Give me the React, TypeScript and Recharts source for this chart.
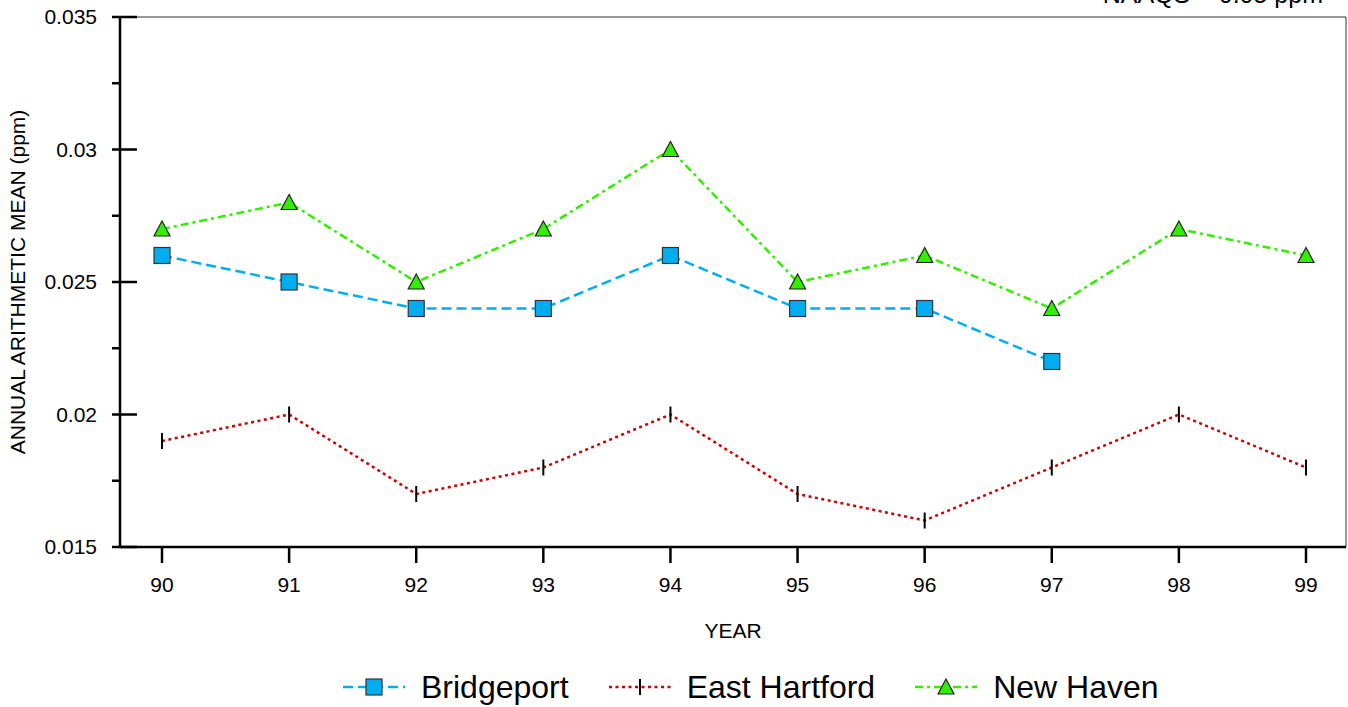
import React from 'react'
import {
  LineChart,
  Line,
  XAxis,
  YAxis,
  CartesianGrid,
  Label,
} from 'recharts'

const years = ['90', '91', '92', '93', '94', '95', '96', '97', '98', '99']
const bridgeport = [0.026, 0.025, 0.024, 0.024, 0.026, 0.024, 0.024, 0.022, null, null]
const eastHartford = [0.019, 0.02, 0.017, 0.018, 0.02, 0.017, 0.016, 0.018, 0.02, 0.018]
const newHaven = [0.027, 0.028, 0.025, 0.027, 0.03, 0.025, 0.026, 0.024, 0.027, 0.026]

const yTicks = [0.015, 0.0175, 0.02, 0.0225, 0.025, 0.0275, 0.03, 0.0325, 0.035]
const yMajorLabels: Record<string, string> = {
  '0.015': '0.015',
  '0.02': '0.02',
  '0.025': '0.025',
  '0.03': '0.03',
  '0.035': '0.035',
}

const FONT = 'Arial, "Liberation Sans", sans-serif'
const BLUE = '#00aeef'
const RED = '#cc0000'
const GREEN = '#33ee00'

const BLUE_DASH = '10 5'
const RED_DASH = '3 3.5'
const GREEN_DASH = '8 4 3 4'

const data = years.map((year, i) => ({
  year,
  bridgeport: bridgeport[i],
  eastHartford: eastHartford[i],
  newHaven: newHaven[i],
}))

const SquareDot = (props: any) => {
  const { cx, cy, index } = props
  if (cx == null || cy == null) return <g key={`s-${index}`} />
  return (
    <rect
      key={`s-${index}`}
      x={cx - 8}
      y={cy - 8}
      width={16}
      height={16}
      fill={BLUE}
      stroke="#333"
      strokeWidth={1.2}
    />
  )
}

const TickDot = (props: any) => {
  const { cx, cy, index } = props
  if (cx == null || cy == null) return <g key={`t-${index}`} />
  return <line key={`t-${index}`} x1={cx} x2={cx} y1={cy - 8} y2={cy + 8} stroke="#000" strokeWidth={2} />
}

const TriangleDot = (props: any) => {
  const { cx, cy, index } = props
  if (cx == null || cy == null) return <g key={`g-${index}`} />
  return (
    <polygon
      key={`g-${index}`}
      points={`${cx},${cy - 8} ${cx - 8},${cy + 7} ${cx + 8},${cy + 7}`}
      fill={GREEN}
      stroke="#222"
      strokeWidth={1.2}
    />
  )
}

// y ticks: long tick crossing the axis for labelled values, short outside tick otherwise
const YTick = (props: any) => {
  const { x, y, payload } = props
  const label = yMajorLabels[String(payload.value)]
  const axisX = x + 23
  return (
    <g>
      <line x1={axisX - 8} x2={label ? axisX + 17 : axisX} y1={y} y2={y} stroke="#000" strokeWidth={2.5} />
      {label && (
        <text x={x} y={y} dy="0.35em" textAnchor="end" fontSize={21} fill="#000" fontFamily={FONT}>
          {label}
        </text>
      )}
    </g>
  )
}

const legendItems = [
  { name: 'Bridgeport', color: BLUE, dash: BLUE_DASH, marker: 'square' },
  { name: 'East Hartford', color: RED, dash: RED_DASH, marker: 'tick' },
  { name: 'New Haven', color: GREEN, dash: GREEN_DASH, marker: 'triangle' },
]

function LegendRow() {
  return (
    <div
      style={{
        position: 'absolute',
        left: 343,
        top: 671,
        display: 'flex',
        alignItems: 'center',
        fontFamily: FONT,
        fontSize: 32,
        lineHeight: '32px',
        color: '#000',
        whiteSpace: 'nowrap',
      }}
    >
      {legendItems.map((item, i) => (
        <div key={item.name} style={{ display: 'flex', alignItems: 'center', marginRight: i < 2 ? 40 : 0 }}>
          <svg width={62} height={24} style={{ marginRight: 16 }}>
            <line x1={0} x2={62} y1={12} y2={12} stroke={item.color} strokeWidth={2.5} strokeDasharray={item.dash} />
            {item.marker === 'square' && (
              <rect x={23} y={4} width={16} height={16} fill={BLUE} stroke="#333" strokeWidth={1.2} />
            )}
            {item.marker === 'tick' && <line x1={31} x2={31} y1={4} y2={20} stroke="#000" strokeWidth={2} />}
            {item.marker === 'triangle' && (
              <polygon points="31,4 23,19 39,19" fill={GREEN} stroke="#222" strokeWidth={1.2} />
            )}
          </svg>
          <span>{item.name}</span>
        </div>
      ))}
    </div>
  )
}

export default function App() {
  return (
    <div style={{ position: 'absolute', left: 0, top: 0, width: 1348, height: 707, background: '#fff' }}>
      <LineChart width={1348} height={707} data={data} margin={{ top: 17, right: 2, left: 0, bottom: 0 }}>
        <CartesianGrid
          stroke="#333"
          strokeWidth={1}
          horizontalCoordinatesGenerator={({ offset }: any) => [offset.top]}
          verticalCoordinatesGenerator={({ offset }: any) => [offset.left + offset.width]}
        />
        <XAxis
          dataKey="year"
          height={160}
          padding={{ left: 42, right: 40 }}
          axisLine={{ stroke: '#000', strokeWidth: 2.5 }}
          tickLine={{ stroke: '#000', strokeWidth: 2.5 }}
          tickSize={16}
          tickMargin={14}
          tick={{ fontSize: 21, fill: '#000', fontFamily: FONT }}
          interval={0}
        >
          <Label
            value="YEAR"
            position="insideBottom"
            offset={69}
            style={{ fontSize: 21, fill: '#000', fontFamily: FONT }}
          />
        </XAxis>
        <YAxis
          type="number"
          domain={[0.015, 0.035]}
          ticks={yTicks}
          width={120}
          interval={0}
          axisLine={{ stroke: '#000', strokeWidth: 2.5 }}
          tickLine={false}
          tickSize={8}
          tickMargin={15}
          tick={<YTick />}
        >
          <Label
            content={({ viewBox }: any) => {
              const cy = viewBox.y + viewBox.height / 2
              return (
                <text
                  x={25}
                  y={cy}
                  transform={`rotate(-90, 25, ${cy})`}
                  textAnchor="middle"
                  fontSize={21}
                  fill="#000"
                  fontFamily={FONT}
                >
                  ANNUAL ARITHMETIC MEAN (ppm)
                </text>
              )
            }}
          />
        </YAxis>
        <Line
          dataKey="eastHartford"
          stroke={RED}
          strokeWidth={2.5}
          strokeDasharray={RED_DASH}
          dot={TickDot}
          activeDot={false}
          isAnimationActive={false}
        />
        <Line
          dataKey="bridgeport"
          stroke={BLUE}
          strokeWidth={2.5}
          strokeDasharray={BLUE_DASH}
          dot={SquareDot}
          activeDot={false}
          isAnimationActive={false}
        />
        <Line
          dataKey="newHaven"
          stroke={GREEN}
          strokeWidth={2.5}
          strokeDasharray={GREEN_DASH}
          dot={TriangleDot}
          activeDot={false}
          isAnimationActive={false}
        />
      </LineChart>
      <div
        style={{
          position: 'absolute',
          right: 25,
          top: -18,
          fontFamily: FONT,
          fontSize: 25,
          lineHeight: '25px',
          color: '#000',
          whiteSpace: 'nowrap',
        }}
      >
        NAAQS = 0.05 ppm
      </div>
      <LegendRow />
    </div>
  )
}
